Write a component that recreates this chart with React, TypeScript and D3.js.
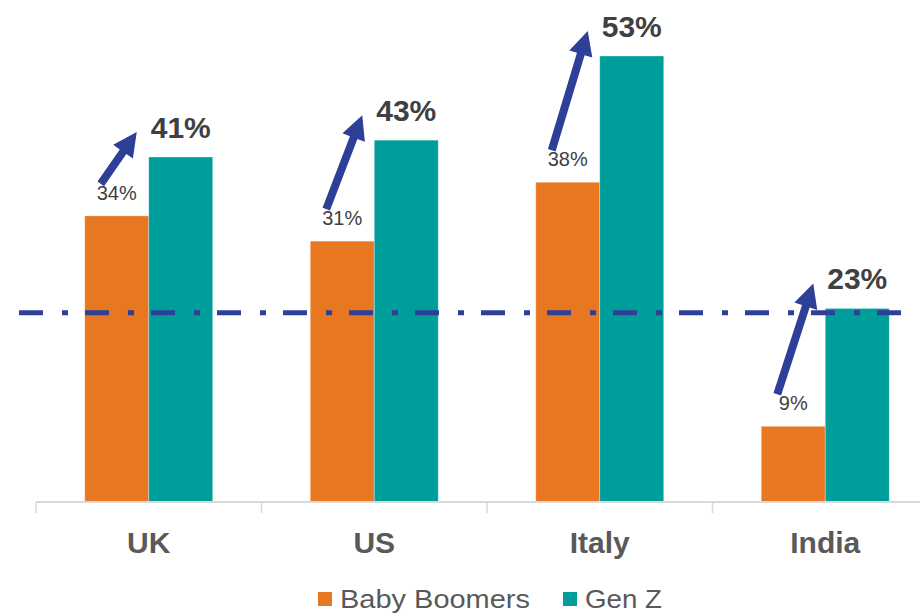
import React from "react";
import * as d3 from "d3";

const countries = ["UK", "US", "Italy", "India"];
const seriesNames = ["Baby Boomers", "Gen Z"];
const babyBoomers = [34, 31, 38, 9];
const genZ = [41, 43, 53, 23];
const referenceValue = 22.5;

const W = 920;
const H = 613;
const ORANGE = "#E87722";
const TEAL = "#009E9A";
const NAVY = "#2E3F97";
const FONT = "'Liberation Sans', Arial, sans-serif";

function arrowPath(x0: number, y0: number, x1: number, y1: number) {
  const dx = x1 - x0, dy = y1 - y0;
  const len = Math.sqrt(dx * dx + dy * dy);
  const ux = dx / len, uy = dy / len;
  const px = -uy, py = ux;
  const sw = 4, hw = 12, hl = 24;
  const bx = x1 - ux * hl, by = y1 - uy * hl;
  const pts = [
    [x0 + px * sw, y0 + py * sw],
    [bx + px * sw, by + py * sw],
    [bx + px * hw, by + py * hw],
    [x1, y1],
    [bx - px * hw, by - py * hw],
    [bx - px * sw, by - py * sw],
    [x0 - px * sw, y0 - py * sw],
  ];
  return "M" + pts.map((p) => p.join(",")).join("L") + "Z";
}

export default function App() {
  const x0 = d3.scaleBand<string>().domain(countries).range([36, 938]).paddingInner(0).paddingOuter(0);
  const x1 = d3.scaleBand<string>().domain(seriesNames).range([0, x0.bandwidth()]).paddingInner(0).paddingOuter(0.762);
  const y = d3.scaleLinear().domain([0, 60]).range([502, 502 - 8.415 * 60]);
  const color = d3.scaleOrdinal<string, string>().domain(seriesNames).range([ORANGE, TEAL]);
  const series = [babyBoomers, genZ];
  const ticks = countries.map((c) => x0(c)!).concat([x0.range()[1]]);

  return (
    <svg width={W} height={H} style={{ position: "absolute", left: 0, top: 0, background: "#fff" }} fontFamily={FONT}>
      {countries.map((c, i) => (
        <g key={c} transform={`translate(${x0(c)},0)`}>
          {seriesNames.map((s, j) => (
            <rect
              key={s}
              x={x1(s)}
              y={y(series[j][i])}
              width={x1.bandwidth()}
              height={y(0) - y(series[j][i])}
              fill={color(s)}
              stroke="#ffffff"
              strokeOpacity={0.4}
              strokeWidth={0.8}
            />
          ))}
        </g>
      ))}
      <line x1={36} x2={W} y1={502} y2={502} stroke="#D9D9D9" strokeWidth={2} />
      {ticks.map((t, i) => (
        <line key={i} x1={t} x2={t} y1={502} y2={513} stroke="#D9D9D9" strokeWidth={1.5} />
      ))}
      {countries.map((c) => (
        <text key={c} x={x0(c)! + x0.bandwidth() / 2} y={553} textAnchor="middle" fontSize={30} fontWeight="bold" fill="#595959">
          {c}
        </text>
      ))}
      <line
        x1={19}
        x2={W}
        y1={y(referenceValue)}
        y2={y(referenceValue)}
        stroke={NAVY}
        strokeWidth={5}
        strokeDasharray="24 19 6 17"
      />
      {countries.map((c, i) => {
        const bx = x0(c)! + x1(seriesNames[0])! + x1.bandwidth() / 2;
        const gx = x0(c)! + x1(seriesNames[1])! + x1.bandwidth() / 2;
        return (
          <g key={c}>
            <text x={bx} y={y(babyBoomers[i]) - 16} textAnchor="middle" fontSize={20} fill="#404040">
              {babyBoomers[i]}%
            </text>
            <text x={gx} y={y(genZ[i]) - 19} textAnchor="middle" fontSize={30} fontWeight="bold" fill="#404040">
              {genZ[i]}%
            </text>
          </g>
        );
      })}
      {countries.map((c, i) => {
        const bx = x0(c)! + x1(seriesNames[0])! + x1.bandwidth() / 2;
        const gLeft = x0(c)! + x1(seriesNames[1])!;
        const ax0 = bx - 16;
        const ay0 = y(babyBoomers[i]) - 32;
        const ax1 = gLeft - 12;
        const ay1 = y(genZ[i]) - 25;
        return <path key={c} d={arrowPath(ax0, ay0, ax1, ay1)} fill={NAVY} />;
      })}
      {seriesNames.map((s, j) => {
        const lx = j === 0 ? 318 : 563;
        const tl = j === 0 ? 190 : 77;
        return (
          <g key={s}>
            <rect x={lx} y={592} width={14} height={14} fill={color(s)} />
            <text x={lx + 22} y={608} fontSize={26} fill="#595959" textLength={tl} lengthAdjust="spacingAndGlyphs">
              {s}
            </text>
          </g>
        );
      })}
    </svg>
  );
}
